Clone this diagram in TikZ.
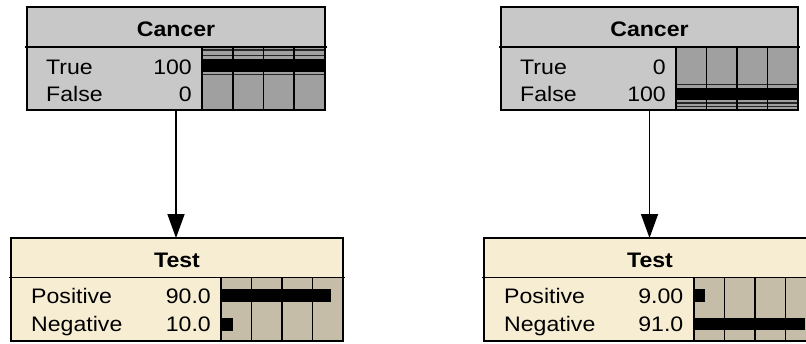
\documentclass[tikz,border=0pt]{standalone}
\usepackage{fontspec}
\setmainfont[FakeStretch=1.1]{Liberation Sans}
\usetikzlibrary{arrows.meta}

\definecolor{cancergray}{RGB}{200,200,200}
\definecolor{cancerbar}{RGB}{160,160,160}
\definecolor{testcream}{RGB}{246,237,211}
\definecolor{testbar}{RGB}{197,189,168}

\begin{document}
\begin{tikzpicture}[x=1pt,y=-1pt,
    box/.style={line width=1.8pt, inner sep=0pt, outer sep=0pt, anchor=north west},
    grid/.style={line width=1.7pt, black},
    stripe/.style={line width=1.2pt, black!85},
    state/.style={font=\fontsize{21}{21}\selectfont, inner sep=0pt, anchor=base west},
    value/.style={font=\fontsize{21}{21}\selectfont, inner sep=0pt, anchor=base east},
    title/.style={font=\fontsize{21}{21}\selectfont\bfseries, inner sep=0pt, anchor=base},
    link/.style={line width=1.5pt, -{Triangle[length=24pt,width=17pt]}}]

  \useasboundingbox (0,0) rectangle (806,343);

  % CANCER, evidence True
  \node[box, fill=cancergray, minimum width=298pt, minimum height=103pt] (cancerA) at (27,7) {};
  \fill[cancerbar] (202,47) rectangle (325,110);
  \fill[black] (202,59) rectangle (325,71.7);
  \foreach \y in {50,55.7,74.5}
    \draw[stripe] (202,\y) -- (325,\y);
  \foreach \k in {0,1,2,3}
    \draw[grid] ({202+\k*30.75},47) -- ++(0,63);
  \draw[grid] (25,47) -- (327,47);
  \draw[box] (cancerA.north west) rectangle (cancerA.south east);
  \node[title] (cancerAtitle) at (176,36.5) {Cancer};
  \node[state] (cancerAt) at (46,74) {True};
  \node[value] (cancerAtv) at (192,74) {100};
  \node[state] (cancerAf) at (46,101.5) {False};
  \node[value] (cancerAfv) at (192,101.5) {0};

  % CANCER, evidence False
  \node[box, fill=cancergray, minimum width=297pt, minimum height=103pt] (cancerB) at (501,7) {};
  \fill[cancerbar] (676,47) rectangle (798,110);
  \fill[black] (676,87.7) rectangle (798,100);
  \foreach \y in {84.5,103,106.3}
    \draw[stripe] (676,\y) -- (798,\y);
  \foreach \k in {0,1,2,3}
    \draw[grid] ({676+\k*30.5},47) -- ++(0,63);
  \draw[grid] (499,47) -- (800,47);
  \draw[box] (cancerB.north west) rectangle (cancerB.south east);
  \node[title] (cancerBtitle) at (649.5,36.5) {Cancer};
  \node[state] (cancerBt) at (520,74) {True};
  \node[value] (cancerBtv) at (666,74) {0};
  \node[state] (cancerBf) at (520,101.5) {False};
  \node[value] (cancerBfv) at (666,101.5) {100};

  % TEST, left
  \node[box, fill=testcream, minimum width=332pt, minimum height=103pt] (testA) at (11,238) {};
  \fill[testbar] (221,277.5) rectangle (343,341);
  \fill[black] (221,289.3) rectangle (330.8,302.3);
  \fill[black] (221,317.7) rectangle (233,330.7);
  \foreach \k in {0,1,2,3}
    \draw[grid] ({221+\k*30.5},277.5) -- (221+\k*30.5,341);
  \draw[grid] (9,277.5) -- (345,277.5);
  \draw[box] (testA.north west) rectangle (testA.south east);
  \node[title] (testAtitle) at (177,267.5) {Test};
  \node[state] (testAp) at (31,303.3) {Positive};
  \node[value] (testApv) at (211,303.3) {90.0};
  \node[state] (testAn) at (31,331.7) {Negative};
  \node[value] (testAnv) at (211,331.7) {10.0};

  % TEST, right
  \node[box, fill=testcream, minimum width=332pt, minimum height=103pt] (testB) at (484,238) {};
  \fill[testbar] (694,277.5) rectangle (816,341);
  \fill[black] (694,289.3) rectangle (705,302.3);
  \fill[black] (694,317.7) rectangle (805,330.4);
  \foreach \k in {0,1,2,3}
    \draw[grid] ({694+\k*30.5},277.5) -- (694+\k*30.5,341);
  \draw[grid] (482,277.5) -- (818,277.5);
  \draw[box] (testB.north west) rectangle (testB.south east);
  \node[title] (testBtitle) at (650,267.5) {Test};
  \node[state] (testBp) at (504,303.3) {Positive};
  \node[value] (testBpv) at (683.5,303.3) {9.00};
  \node[state] (testBn) at (504,331.7) {Negative};
  \node[value] (testBnv) at (683.5,331.7) {91.0};

  % ARROWS
  \draw[link] (cancerA.south) -- (cancerA.south |- testA.north);
  \draw[link] (cancerB.south) -- (cancerB.south |- testB.north);

\end{tikzpicture}
\end{document}
